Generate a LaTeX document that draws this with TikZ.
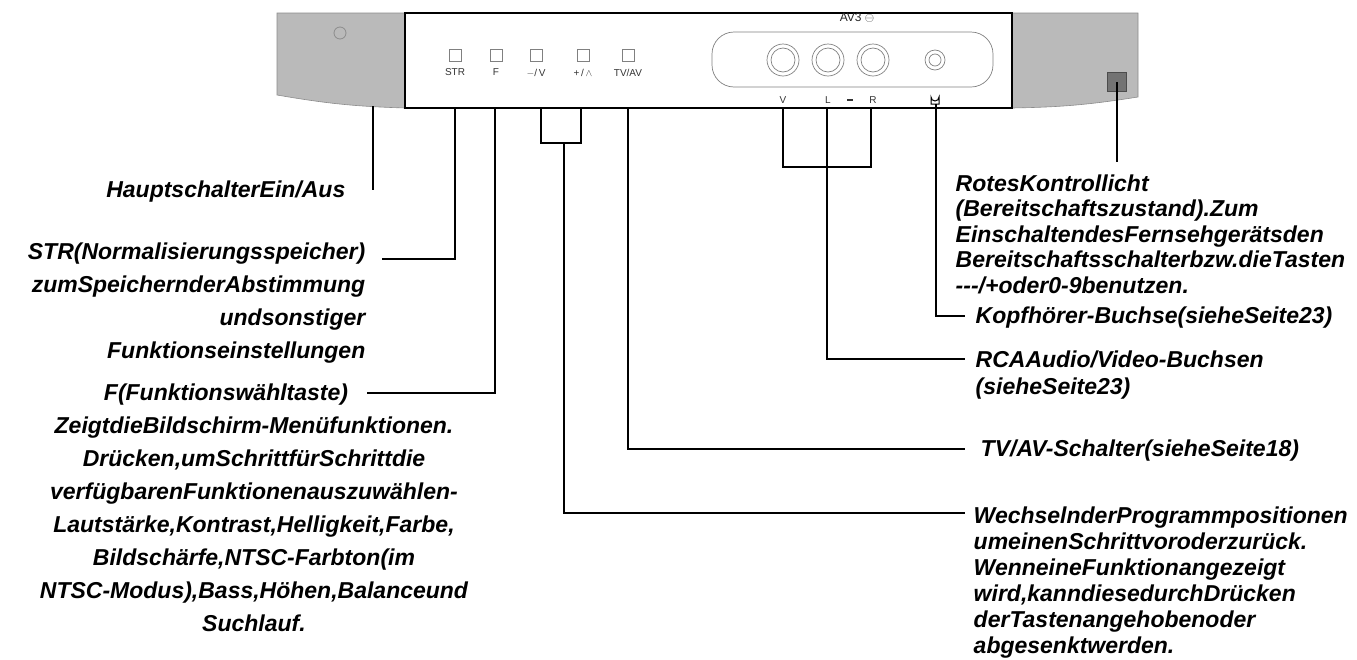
\documentclass[tikz,border=0pt]{standalone}
\usepackage{fontspec}
\setmainfont{Liberation Sans}
\usetikzlibrary{positioning, calc}

\begin{document}
\begin{tikzpicture}[x=1pt, y=-1pt, line width=1.4pt]
    \tikzstyle{desc} = [inner sep=0pt, font=\fontsize{23}{33}\selectfont\bfseries\itshape]
    \tikzstyle{key} = [inner sep=0pt, font=\fontsize{10}{12}\selectfont, text=black!80]
    \tikzstyle{side} = [fill=black!27, draw=black!45, line width=0.6pt]
    \tikzstyle{lead} = [line width=1.4pt]

    \useasboundingbox (0,0) rectangle (1357,659);

    % Side panels
    \draw[side] (277,13) -- (405,13) -- (405,108) to[bend left=4] (277,95) -- cycle;
    \draw[side] (1012,13) -- (1138,13) -- (1138,97) to[bend left=4] (1012,108) -- cycle;
    \draw[black!45, line width=0.8pt] (340,33) circle (6);
    \node[draw=black!70, fill=black!55, line width=0.8pt, minimum size=19pt, inner sep=0pt] (led) at (1117,82) {};

    % Front panel
    \draw[line width=1.6pt] (405,13) rectangle (1012,108);

    % Buttons
    \foreach \x/\name/\lbl in {455/str/STR, 496/f/F, 536/minus/{$-$/\,V}, 583/plus/{+\,/\,$\wedge$}, 628/tvav/{TV/AV}} {
        \node[draw=black!50, line width=0.6pt, minimum size=12pt, inner sep=0pt] (b\name) at (\x,55) {};
        \node[key, below=7pt of b\name] {\lbl};
    }

    % AV jacks
    \node[font=\fontsize{12}{12}\selectfont, text=black!85] (av3) at (857,18) {AV3 $\ominus$};
    \draw[black!50, line width=0.7pt, rounded corners=22pt] (712,32) rectangle (993,87);
    \foreach \x/\name/\lbl in {783/v/V, 828/l/L, 873/r/R} {
        \draw[black!50, line width=0.7pt] (\x,60) circle (16) circle (12);
        \node[key] (j\name) at (\x,100) {\lbl};
    }
    \node[key] at (850,100) {\rule{6pt}{1.5pt}};
    \draw[black!50, line width=0.7pt] (935,60) circle (10) circle (6);
    \draw[line width=1pt] (931,104) -- (931,97) arc (180:0:4) -- (939,104) -- cycle;

    % Descriptions, left
    \node[desc, anchor=east] (main) at (346,192) {HauptschalterEin/Aus};
    \node[desc, align=right, anchor=north east] (strtxt) at (366,242) {STR(Normalisierungsspeicher)\\zumSpeichernderAbstimmung\hspace*{22pt}\\undsonstiger\hspace*{8pt}\\Funktionseinstellungen};
    \node[desc, align=center, anchor=north] (ftxt) at (254,383) {F(Funktionswähltaste)\hspace*{56pt}\\ZeigtdieBildschirm-Menüfunktionen.\\Drücken,umSchrittfürSchrittdie\\verfügbarenFunktionenauszuwählen-\\Lautstärke,Kontrast,Helligkeit,Farbe,\\Bildschärfe,NTSC-Farbton(im\\NTSC-Modus),Bass,Höhen,Balanceund\\Suchlauf.};

    % Descriptions, right
    \node[desc, align=left, anchor=north west, font=\fontsize{23}{25.5}\selectfont\bfseries\itshape] (ledtxt) at (955,174) {RotesKontrollicht\\(Bereitschaftszustand).Zum\\EinschaltendesFernsehgerätsden\\Bereitschaftsschalterbzw.dieTasten\\-{}-{}-/+oder0-9benutzen.};
    \node[desc, anchor=west] (phone) at (975,318) {Kopfhörer-Buchse(sieheSeite23)};
    \node[desc, align=left, anchor=north west, font=\fontsize{23}{27}\selectfont\bfseries\itshape] (rca) at (975,350) {RCAAudio/Video-Buchsen\\(sieheSeite23)};
    \node[desc, anchor=west] (tvtxt) at (980,451) {TV/AV-Schalter(sieheSeite18)};
    \node[desc, align=left, anchor=north west, font=\fontsize{23}{26}\selectfont\bfseries\itshape] (prog) at (973,506) {WechselnderProgrammpositionen\\umeinenSchrittvoroderzurück.\\WenneineFunktionangezeigt\\wird,kanndiesedurchDrücken\\derTastenangehobenoder\\abgesenktwerden.};

    % Leads
    \coordinate (pw) at (373,106);
    \coordinate (pwend) at (373,190);
    \coordinate (strend) at (382,259);
    \coordinate (fend) at (367,393);
    \draw[lead] (pw) -- (pwend);
    \draw[lead] (bstr |- 0,108) |- (strend);
    \draw[lead] (495,108) |- (fend);
    \draw[lead] (541,108) -- (541,143) -- (581,143) -- (581,108);
    \draw[lead] (564,143) |- ($(prog.north west)+(-8,7)$);
    \draw[lead] (btvav |- 0,108) |- ($(tvtxt.west)+(-15,-2)$);
    \draw[lead] (783,108) -- (783,167) -- (871,167) -- (871,108);
    \draw[lead] (827,108) |- ($(rca.north west)+(-10,9)$);
    \draw[lead] (936,104) |- ($(phone.west)+(-10,-2)$);
    \draw[lead] (led.center) -- (1117,162);
\end{tikzpicture}
\end{document}
